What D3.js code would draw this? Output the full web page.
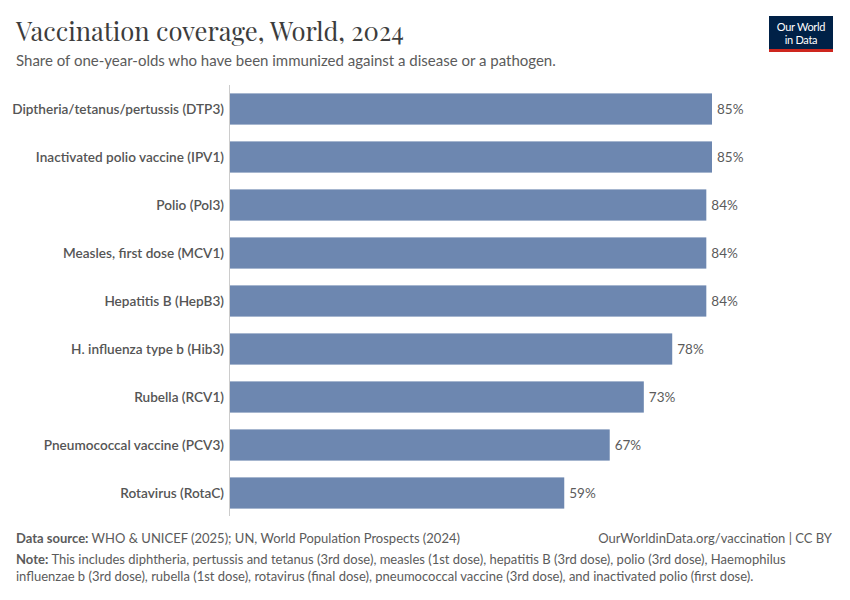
<!DOCTYPE html>
<html>
<head>
<meta charset="utf-8">
<script src="https://cdn.jsdelivr.net/npm/d3@7"></script>
<style>
  body { margin: 0; background: #fff; }
  svg { font-family: Lato, "Noto Sans", sans-serif; }
</style>
</head>
<body>
<script>
// vaccine names, top to bottom
var vaccines = [
  "Diptheria/tetanus/pertussis (DTP3)",
  "Inactivated polio vaccine (IPV1)",
  "Polio (Pol3)",
  "Measles, first dose (MCV1)",
  "Hepatitis B (HepB3)",
  "H. influenza type b (Hib3)",
  "Rubella (RCV1)",
  "Pneumococcal vaccine (PCV3)",
  "Rotavirus (RotaC)"
];
// coverage in percent
var coverage = [85, 85, 84, 84, 84, 78, 73, 67, 59];

var width = 850, height = 600;
var margin = {top: 94, left: 229, right: 138, bottom: 122};

var svg = d3.select("body").append("svg")
  .attr("width", width)
  .attr("height", height);

// title + subtitle
svg.append("text")
  .attr("x", 16).attr("y", 41)
  .attr("font-family", "'Playfair Display', 'Liberation Serif', 'DejaVu Serif', serif")
  .attr("font-size", 25.6)
  .attr("fill", "#3d3d3d")
  .text("Vaccination coverage, World, 2024");

svg.append("text")
  .attr("x", 16).attr("y", 66)
  .attr("font-size", 15)
  .attr("fill", "#5b5b5b")
  .text("Share of one-year-olds who have been immunized against a disease or a pathogen.");

// logo
var logo = svg.append("g").attr("transform", "translate(769,16)");
logo.append("rect").attr("width", 64).attr("height", 36).attr("fill", "#002147");
logo.append("rect").attr("y", 33).attr("width", 64).attr("height", 3).attr("fill", "#ce261e");
logo.append("text").attr("x", 32).attr("y", 15).attr("text-anchor", "middle")
  .attr("font-size", 11).attr("fill", "#fff").attr("letter-spacing", -0.3).text("Our World");
logo.append("text").attr("x", 32).attr("y", 28).attr("text-anchor", "middle")
  .attr("font-size", 11).attr("fill", "#fff").attr("letter-spacing", -0.3).text("in Data");

// scales
var x = d3.scaleLinear()
  .domain([0, d3.max(coverage)])
  .range([margin.left, 712]);

var y = d3.scaleBand()
  .domain(vaccines)
  .range([margin.top - 9, margin.top + 9 * 48 - 9])
  .paddingInner(0.35)
  .paddingOuter(0.175);

// axis line
svg.append("line")
  .attr("x1", x(0) + 0.5).attr("x2", x(0) + 0.5)
  .attr("y1", 85).attr("y2", 516)
  .attr("stroke", "#cccccc");

var rows = svg.selectAll("g.row")
  .data(vaccines)
  .enter().append("g")
  .attr("class", "row");

rows.append("rect")
  .attr("x", x(0) + 1)
  .attr("y", function(d) { return y(d); })
  .attr("width", function(d, i) { return x(coverage[i]) - x(0) - 1; })
  .attr("height", y.bandwidth())
  .attr("fill", "#6d87b0");

rows.append("text")
  .attr("x", x(0) - 5)
  .attr("y", function(d) { return y(d) + y.bandwidth() / 2; })
  .attr("dy", "0.35em")
  .attr("text-anchor", "end")
  .attr("font-size", 13.6)
  .attr("font-weight", 600)
  .attr("fill", "#555")
  .text(function(d) { return d; });

rows.append("text")
  .attr("x", function(d, i) { return x(coverage[i]) + 5; })
  .attr("y", function(d) { return y(d) + y.bandwidth() / 2; })
  .attr("dy", "0.35em")
  .attr("font-size", 13.5)
  .attr("fill", "#5b5b5b")
  .text(function(d, i) { return coverage[i] + "%"; });

// footer
var src = svg.append("text").attr("x", 16).attr("y", 543)
  .attr("font-size", 13).attr("fill", "#5b5b5b");
src.append("tspan").attr("font-weight", 700).text("Data source: ");
src.append("tspan").text("WHO & UNICEF (2025); UN, World Population Prospects (2024)");

svg.append("text").attr("x", 832).attr("y", 543)
  .attr("text-anchor", "end")
  .attr("font-size", 13).attr("fill", "#5b5b5b")
  .text("OurWorldinData.org/vaccination | CC BY");

var note = svg.append("text").attr("x", 16).attr("y", 564)
  .attr("font-size", 13).attr("fill", "#5b5b5b");
note.append("tspan").attr("font-weight", 700).text("Note: ");
note.append("tspan").text("This includes diphtheria, pertussis and tetanus (3rd dose), measles (1st dose), hepatitis B (3rd dose), polio (3rd dose), Haemophilus");

svg.append("text").attr("x", 16).attr("y", 581)
  .attr("font-size", 13).attr("fill", "#5b5b5b")
  .text("influenzae b (3rd dose), rubella (1st dose), rotavirus (final dose), pneumococcal vaccine (3rd dose), and inactivated polio (first dose).");
</script>
</body>
</html>
